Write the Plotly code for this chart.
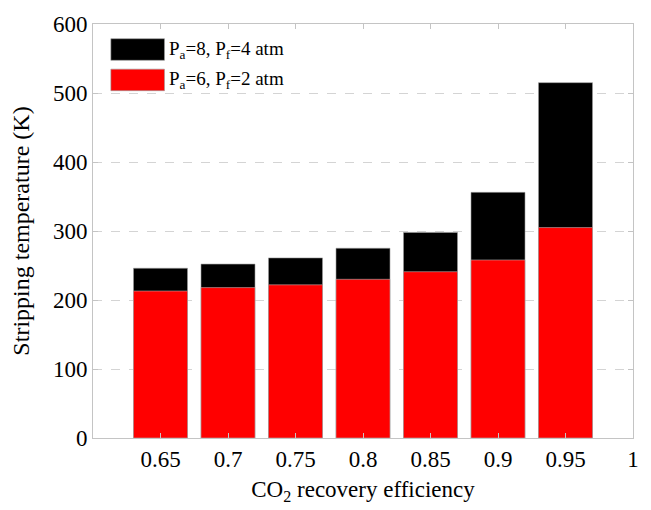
import plotly.graph_objects as go

efficiency = [0.65, 0.70, 0.75, 0.80, 0.85, 0.90, 0.95]
temp_p8_p4 = [246, 252, 261, 275, 298, 356, 515]
temp_p6_p2 = [213, 218, 222, 230, 241, 258, 305]
x_tickvals = [0.65, 0.70, 0.75, 0.80, 0.85, 0.90, 0.95, 1.0]
x_ticktext = ["0.65", "0.7", "0.75", "0.8", "0.85", "0.9", "0.95", "1"]
y_tickvals = [0, 100, 200, 300, 400, 500, 600]
legend_labels = ["P<sub>a</sub>=8, P<sub>f</sub>=4 atm", "P<sub>a</sub>=6, P<sub>f</sub>=2 atm"]
colors = ["#000000", "#ff0000"]

FONT = "Liberation Serif, Times New Roman, serif"

fig = go.Figure()
fig.add_trace(go.Bar(x=efficiency, y=temp_p8_p4, width=0.04, name=legend_labels[0],
                     marker=dict(color=colors[0], line=dict(color="#9a9a9a", width=0.6))))
fig.add_trace(go.Bar(x=efficiency, y=temp_p6_p2, width=0.04, name=legend_labels[1],
                     marker=dict(color=colors[1], line=dict(color="#b0b0b0", width=0.6))))

# custom legend with large swatches (paper coordinates)
W, H = 651, 510
ml, mr, mt, mb = 93, 14, 16, 72
pw, ph = W - ml - mr, H - mt - mb
def px(x): return (x - ml) / pw
def py(y): return 1 - (y - mt) / ph
sw = [(31, 53), (62, 84)]
for i, (y0, y1) in enumerate(sw):
    fig.add_shape(type="rect", xref="paper", yref="paper",
                  x0=px(111), x1=px(165), y0=py(y1), y1=py(y0),
                  fillcolor=colors[i], line=dict(color="#9a9a9a", width=0.6))
    fig.add_annotation(xref="paper", yref="paper", x=px(168), y=py((y0 + y1) / 2),
                       text=legend_labels[i], showarrow=False, xanchor="left", yanchor="middle",
                       font=dict(family=FONT, size=19, color="black"))

fig.update_layout(
    width=W, height=H,
    margin=dict(l=ml, r=mr, t=mt, b=mb),
    barmode="overlay",
    showlegend=False,
    plot_bgcolor="white", paper_bgcolor="white",
    font=dict(family=FONT, size=23, color="black"),
)
fig.update_xaxes(range=[0.6, 1.0], tickvals=x_tickvals, ticktext=x_ticktext,
                 showline=True, linecolor="#c4c4c4", linewidth=1, mirror="ticks",
                 ticks="inside", ticklen=5, tickcolor="#c4c4c4",
                 showgrid=False, zeroline=False,
                 tickfont=dict(family=FONT, size=23),
                 title=dict(text="CO<sub>2</sub> recovery efficiency", font=dict(family=FONT, size=23), standoff=10))
fig.update_yaxes(range=[0, 600], tickvals=y_tickvals,
                 showline=True, linecolor="#c4c4c4", linewidth=1, mirror="ticks",
                 ticks="inside", ticklen=5, tickcolor="#c4c4c4",
                 showgrid=True, gridcolor="#d4d4d4", griddash="dash", gridwidth=1,
                 zeroline=False,
                 tickfont=dict(family=FONT, size=23),
                 title=dict(text="Stripping temperature (K)", font=dict(family=FONT, size=24), standoff=16))

fig.write_html("out.html")
